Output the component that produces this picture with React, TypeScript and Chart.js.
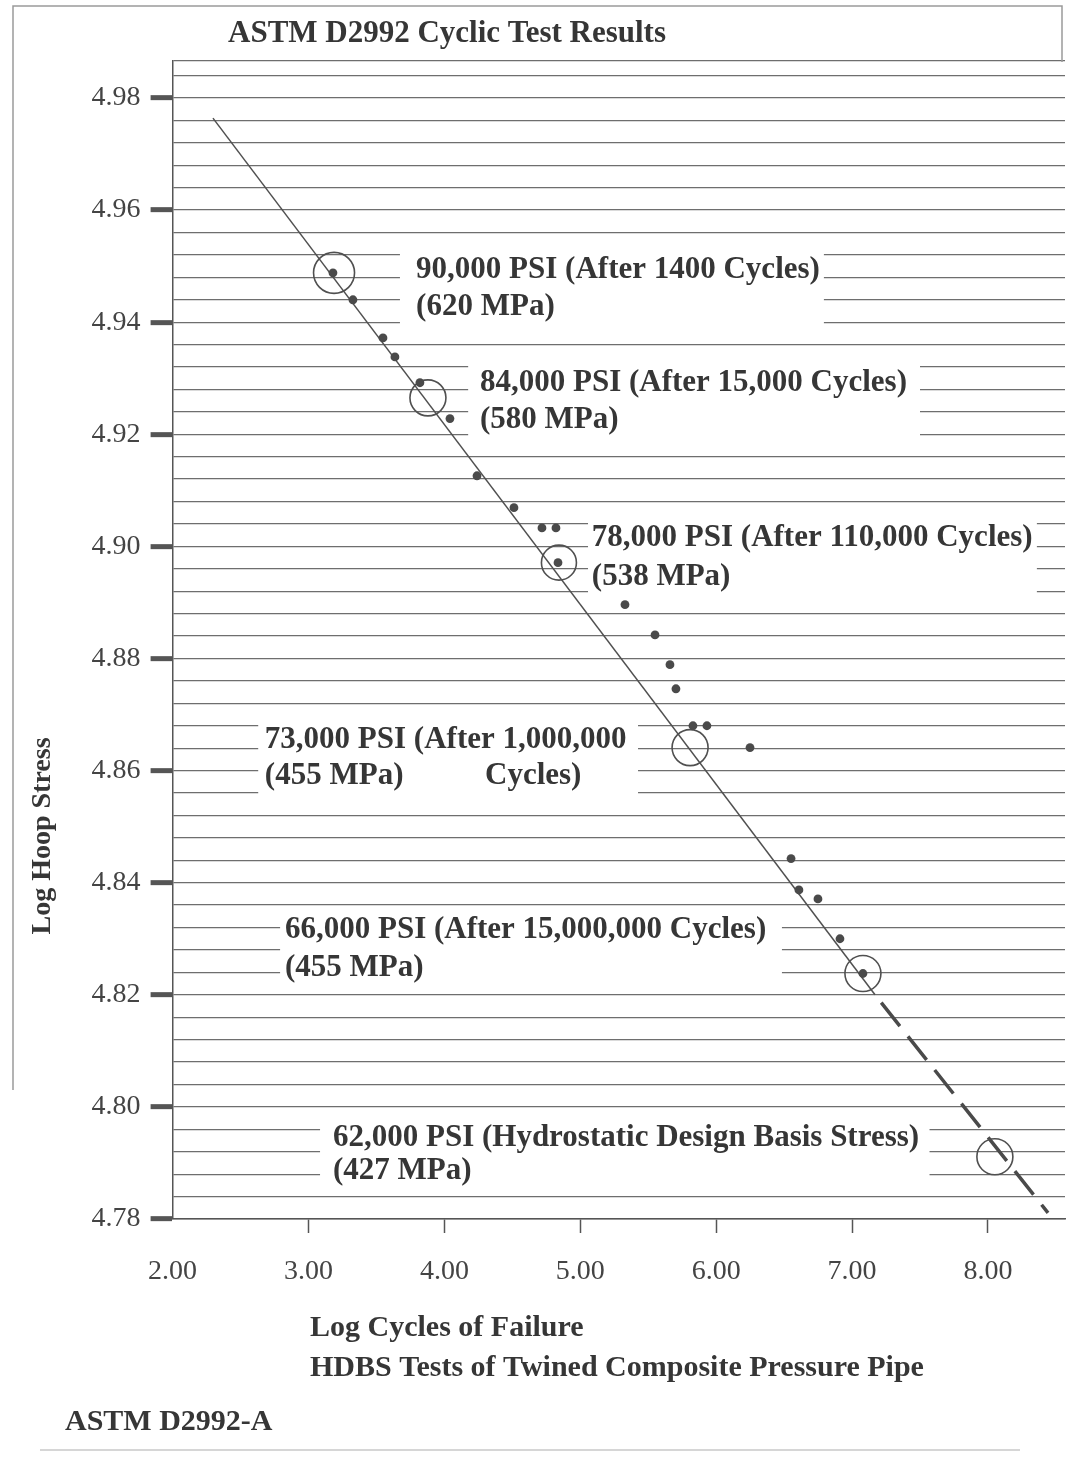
import React, { useEffect, useRef } from 'react';
import { Chart, registerables } from 'chart.js';

Chart.register(...registerables);

// ---------- text ----------
const chartTitle = 'ASTM D2992 Cyclic Test Results';
const xAxisTitleLines = ['Log Cycles of Failure', 'HDBS Tests of Twined Composite Pressure Pipe'];
const yAxisTitle = 'Log Hoop Stress';
const footerText = 'ASTM D2992-A';

// ---------- axes ----------
const xTickValues = [2, 3, 4, 5, 6, 7, 8];
const yLabelValues = [4.78, 4.8, 4.82, 4.84, 4.86, 4.88, 4.9, 4.92, 4.94, 4.96, 4.98];
const yGridStep = 0.004;
const xMin = 2.0;
const xMax = 8.567;
const yMin = 4.78;
const yMax = 4.9866;

// ---------- data ----------
const testLogCycles = [
  3.18, 3.327, 3.548, 3.636, 3.82, 4.041, 4.24, 4.512, 4.718, 4.821, 4.836, 5.329,
  5.55, 5.66, 5.704, 5.829, 5.932, 6.249, 6.551, 6.609, 6.749, 6.911, 7.08,
];
const testLogStress = [
  4.9488, 4.944, 4.9372, 4.9338, 4.9292, 4.9228, 4.9126, 4.9069, 4.9033, 4.9033, 4.8971, 4.8896,
  4.8842, 4.8789, 4.8746, 4.868, 4.868, 4.8641, 4.8443, 4.8387, 4.8371, 4.83, 4.8238,
];

const highlightLogCycles = [3.188, 3.879, 4.843, 5.808, 7.08, 8.051];
const highlightLogStress = [4.9488, 4.9265, 4.8971, 4.8641, 4.8238, 4.7911];

const fitSolidLogCycles = [2.297, 7.169];
const fitSolidLogStress = [4.9764, 4.82];
const fitDashedLogCycles = [7.169, 8.442];
const fitDashedLogStress = [4.82, 4.7811];

const annotationHeadlines = [
  '90,000 PSI (After 1400 Cycles)',
  '84,000 PSI (After 15,000 Cycles)',
  '78,000 PSI (After 110,000 Cycles)',
  '73,000 PSI (After 1,000,000',
  '66,000 PSI (After 15,000,000 Cycles)',
  '62,000 PSI (Hydrostatic Design Basis Stress)',
];
const annotationSublines = ['(620 MPa)', '(580 MPa)', '(538 MPa)', '(455 MPa)', '(455 MPa)', '(427 MPa)'];
const annotationTrailers = ['', '', '', 'Cycles)', '', ''];

// ---------- layout / style (not data) ----------
const annotationLayout = [
  { box: [3.673, 6.765, 4.954, 4.938], textX: 3.792, y1: 4.9493, y2: 4.9427, trailerX: 0 },
  { box: [4.175, 7.5, 4.934, 4.918], textX: 4.262, y1: 4.9292, y2: 4.9226, trailerX: 0 },
  { box: [5.057, 8.36, 4.9065, 4.89], textX: 5.085, y1: 4.9015, y2: 4.8946, trailerX: 0 },
  { box: [2.63, 5.425, 4.87, 4.8545], textX: 2.679, y1: 4.8655, y2: 4.8591, trailerX: 4.299 },
  { box: [2.791, 6.484, 4.8345, 4.8215], textX: 2.827, y1: 4.8316, y2: 4.8248, trailerX: 0 },
  { box: [3.085, 7.57, 4.798, 4.786], textX: 3.18, y1: 4.7945, y2: 4.7885, trailerX: 0 },
];
const highlightRadii = [20.5, 18, 17.5, 18, 18, 18];

const SERIF = '"Liberation Serif", "Times New Roman", serif';
const INK = '#363636';

const isLabelValue = (v: number) => yLabelValues.some((l) => Math.abs(l - v) < 1e-6);

const gridValues: number[] = [];
for (let i = 0; yMin + i * yGridStep <= yMax + 1e-9; i++) {
  gridValues.push(Math.round((yMin + i * yGridStep) * 1000) / 1000);
}
gridValues.push(yMax);

const annotationPlugin = {
  id: 'annotationBoxes',
  beforeDatasetsDraw(chart: any) {
    const { ctx, scales } = chart;
    const x = scales.x;
    const y = scales.y;
    ctx.save();
    ctx.font = `bold 31px ${SERIF}`;
    ctx.textBaseline = 'middle';
    ctx.textAlign = 'left';
    annotationLayout.forEach((a, i) => {
      const left = x.getPixelForValue(a.box[0]);
      const tx = x.getPixelForValue(a.textX);
      const w = ctx.measureText(annotationHeadlines[i]).width;
      const right = Math.max(x.getPixelForValue(a.box[1]), tx + w + 4);
      const top = y.getPixelForValue(a.box[2]);
      const bottom = y.getPixelForValue(a.box[3]);
      ctx.fillStyle = '#ffffff';
      ctx.fillRect(left, top, right - left, bottom - top);
      ctx.fillStyle = INK;
      ctx.fillText(annotationHeadlines[i], tx, y.getPixelForValue(a.y1));
      ctx.fillText(annotationSublines[i], tx, y.getPixelForValue(a.y2));
      if (annotationTrailers[i]) {
        ctx.fillText(annotationTrailers[i], x.getPixelForValue(a.trailerX), y.getPixelForValue(a.y2));
      }
    });
    ctx.restore();
  },
};

const textPlugin = {
  id: 'pageTexts',
  afterDraw(chart: any) {
    const { ctx } = chart;
    ctx.save();
    // scanned page frame
    ctx.strokeStyle = '#9a9a9a';
    ctx.lineWidth = 1.5;
    ctx.beginPath();
    ctx.moveTo(13, 1090);
    ctx.lineTo(13, 6);
    ctx.lineTo(1062, 6);
    ctx.lineTo(1062, 62);
    ctx.stroke();
    ctx.strokeStyle = '#c8c8c8';
    ctx.beginPath();
    ctx.moveTo(40, 1450);
    ctx.lineTo(1020, 1450);
    ctx.stroke();

    ctx.fillStyle = INK;
    ctx.textBaseline = 'middle';
    ctx.textAlign = 'left';
    ctx.font = `bold 31px ${SERIF}`;
    ctx.fillText(chartTitle, 228, 34);
    ctx.font = `bold 30px ${SERIF}`;
    ctx.fillText(xAxisTitleLines[0], 310, 1328);
    ctx.fillText(xAxisTitleLines[1], 310, 1368);
    ctx.fillText(footerText, 65, 1422);

    ctx.save();
    ctx.translate(43, 836);
    ctx.rotate(-Math.PI / 2);
    ctx.textAlign = 'center';
    ctx.font = `bold 28px ${SERIF}`;
    ctx.fillText(yAxisTitle, 0, 0);
    ctx.restore();
    ctx.restore();
  },
};

export default function App() {
  const canvasRef = useRef<HTMLCanvasElement | null>(null);

  useEffect(() => {
    const canvas = canvasRef.current;
    if (!canvas) return;

    const chart = new Chart(canvas, {
      type: 'scatter',
      data: {
        datasets: [
          {
            label: 'Test results',
            data: testLogCycles.map((v, i) => ({ x: v, y: testLogStress[i] })),
            pointRadius: 4.4,
            pointBackgroundColor: '#4a4a4a',
            pointBorderWidth: 0,
            order: 1,
          },
          {
            label: 'Highlighted',
            data: highlightLogCycles.map((v, i) => ({ x: v, y: highlightLogStress[i] })),
            pointRadius: highlightRadii,
            pointBackgroundColor: 'rgba(0,0,0,0)',
            pointBorderColor: '#505050',
            pointBorderWidth: 1.6,
            order: 2,
          },
          {
            label: 'Fit',
            data: fitSolidLogCycles.map((v, i) => ({ x: v, y: fitSolidLogStress[i] })),
            showLine: true,
            borderColor: '#505050',
            borderWidth: 1.5,
            pointRadius: 0,
            order: 3,
          },
          {
            label: 'Extrapolation',
            data: fitDashedLogCycles.map((v, i) => ({ x: v, y: fitDashedLogStress[i] })),
            showLine: true,
            borderColor: '#4a4a4a',
            borderWidth: 3.5,
            borderDash: [30, 13],
            borderDashOffset: -10,
            pointRadius: 0,
            order: 4,
          },
        ],
      },
      options: {
        responsive: false,
        maintainAspectRatio: false,
        animation: false,
        layout: { autoPadding: false, padding: { top: 61, right: 15, left: 0, bottom: 0 } },
        plugins: {
          legend: { display: false },
          tooltip: { enabled: false },
          title: { display: false },
        },
        scales: {
          x: {
            type: 'linear',
            min: xMin,
            max: xMax,
            afterFit: (s: any) => {
              s.height = 243;
              s.paddingLeft = 0;
              s.paddingRight = 0;
            },
            afterBuildTicks: (s: any) => {
              s.ticks = xTickValues.map((v) => ({ value: v }));
            },
            ticks: {
              callback: (v: any) => Number(v).toFixed(2),
              font: { family: SERIF, size: 28 },
              color: '#444',
              padding: 22,
              autoSkip: false,
              maxRotation: 0,
            },
            grid: {
              drawOnChartArea: false,
              tickLength: 14,
              tickWidth: 1.5,
              tickColor: (ctx: any) => (ctx.index === 0 ? 'rgba(0,0,0,0)' : '#555'),
            },
            border: { display: true, color: '#555', width: 1.5 },
          },
          y: {
            type: 'linear',
            min: yMin,
            max: yMax,
            afterFit: (s: any) => {
              s.width = 172.6;
            },
            afterBuildTicks: (s: any) => {
              s.ticks = gridValues.map((v) => ({ value: v }));
            },
            ticks: {
              callback: (v: any) => (isLabelValue(Number(v)) ? Number(v).toFixed(2) : ''),
              font: { family: SERIF, size: 28 },
              color: '#444',
              padding: 10,
              autoSkip: false,
            },
            grid: {
              color: '#6e6e6e',
              lineWidth: 1.3,
              tickLength: 22,
              tickColor: '#555',
              tickWidth: (ctx: any) => (ctx.tick && isLabelValue(ctx.tick.value) ? 5 : 0),
            },
            border: { display: true, color: '#555', width: 1.5 },
          },
        },
      },
      plugins: [annotationPlugin, textPlugin],
    } as any);

    return () => {
      chart.destroy();
    };
  }, []);

  return (
    <div style={{ position: 'absolute', left: 0, top: 0, width: 1080, height: 1462, background: '#fff' }}>
      <canvas ref={canvasRef} width={1080} height={1462} style={{ display: 'block', width: 1080, height: 1462 }} />
    </div>
  );
}
